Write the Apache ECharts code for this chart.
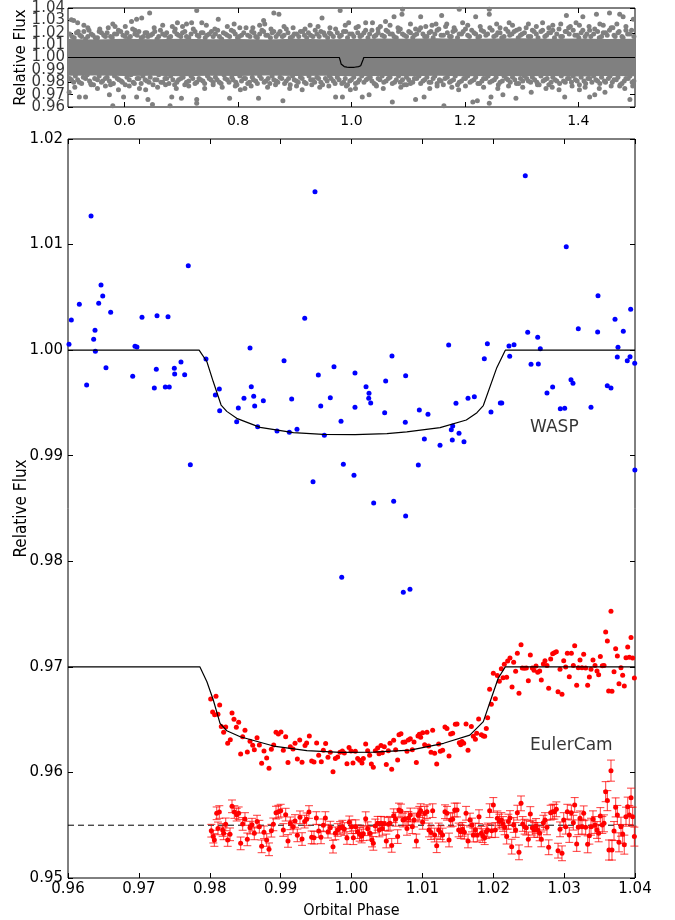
<!DOCTYPE html>
<html>
<head>
<meta charset="utf-8">
<script src="https://cdn.jsdelivr.net/npm/echarts@6/dist/echarts.min.js"></script>
<style>
html,body{margin:0;padding:0;background:#fff;}
#chart{width:675px;height:920px;}
</style>
</head>
<body>
<div id="chart"></div>
<script>
// ---- tick values ----
const topXTicks = [0.6, 0.8, 1.0, 1.2, 1.4];
const topYTicks = [0.96, 0.97, 0.98, 0.99, 1.00, 1.01, 1.02, 1.03, 1.04];
const mainXTicks = [0.96, 0.97, 0.98, 0.99, 1.00, 1.01, 1.02, 1.03, 1.04];
const mainYTicks = [0.95, 0.96, 0.97, 0.98, 0.99, 1.00, 1.01, 1.02];

// ---- full WASP light curve (phase, flux) ----
// dense core envelope of the photometry
const coreTop = [[0.50,1.0150],[0.55,1.0146],[0.60,1.0152],[0.65,1.0147],[0.70,1.0151],[0.75,1.0148],[0.80,1.0150],[0.85,1.0146],[0.90,1.0152],[0.95,1.0148],[1.00,1.0150],[1.05,1.0153],[1.10,1.0151],[1.15,1.0155],[1.20,1.0150],[1.25,1.0153],[1.30,1.0156],[1.35,1.0151],[1.40,1.0154],[1.45,1.0150],[1.50,1.0152]];
const coreBottom = [[0.50,0.9852],[0.55,0.9855],[0.60,0.9850],[0.65,0.9853],[0.70,0.9849],[0.75,0.9852],[0.80,0.9850],[0.85,0.9854],[0.90,0.9851],[0.95,0.9853],[1.00,0.9849],[1.05,0.9851],[1.10,0.9848],[1.15,0.9852],[1.20,0.9849],[1.25,0.9851],[1.30,0.9848],[1.35,0.9850],[1.40,0.9847],[1.45,0.9851],[1.50,0.9849]];
const topEdgeUpper = [[0.503,1.019],[0.511,1.016],[0.518,1.021],[0.524,1.017],[0.531,1.015],[0.537,1.022],[0.544,1.018],[0.552,1.016],[0.559,1.020],[0.566,1.017],[0.571,1.024],[0.578,1.016],[0.586,1.019],[0.593,1.021],[0.601,1.017],[0.607,1.015],[0.614,1.023],[0.622,1.018],[0.629,1.016],[0.636,1.020],[0.641,1.017],[0.649,1.019],[0.657,1.015],[0.663,1.022],[0.671,1.018],[0.678,1.016],[0.684,1.025],[0.692,1.019],[0.699,1.017],[0.706,1.021],[0.713,1.016],[0.721,1.023],[0.728,1.018],[0.735,1.020],[0.742,1.016],[0.749,1.019],[0.756,1.017],[0.764,1.022],[0.771,1.015],[0.778,1.019],[0.785,1.017],[0.792,1.021],[0.799,1.016],[0.806,1.018],[0.814,1.024],[0.821,1.017],[0.828,1.020],[0.834,1.016],[0.842,1.022],[0.849,1.018],[0.857,1.016],[0.863,1.021],[0.871,1.019],[0.878,1.017],[0.885,1.023],[0.892,1.016],[0.899,1.019],[0.907,1.017],[0.914,1.021],[0.921,1.016],[0.928,1.018],[0.936,1.022],[0.943,1.017],[0.951,1.020],[0.958,1.016],[0.964,1.019],[0.972,1.023],[0.979,1.017],[0.986,1.021],[0.993,1.016],[1.001,1.019],[1.008,1.024],[1.015,1.017],[1.022,1.020],[1.029,1.016],[1.036,1.022],[1.043,1.018],[1.051,1.025],[1.058,1.017],[1.064,1.021],[1.072,1.019],[1.079,1.016],[1.086,1.023],[1.093,1.018],[1.101,1.021],[1.108,1.016],[1.115,1.019],[1.122,1.024],[1.129,1.017],[1.137,1.020],[1.144,1.016],[1.151,1.022],[1.158,1.018],[1.166,1.025],[1.173,1.017],[1.179,1.021],[1.187,1.016],[1.194,1.019],[1.201,1.023],[1.208,1.017],[1.216,1.020],[1.223,1.016],[1.229,1.022],[1.237,1.018],[1.244,1.024],[1.251,1.017],[1.258,1.020],[1.265,1.016],[1.272,1.023],[1.279,1.018],[1.287,1.021],[1.294,1.016],[1.301,1.019],[1.308,1.024],[1.316,1.017],[1.322,1.021],[1.329,1.016],[1.337,1.022],[1.344,1.018],[1.351,1.020],[1.358,1.016],[1.366,1.023],[1.372,1.017],[1.379,1.021],[1.386,1.025],[1.394,1.018],[1.401,1.016],[1.408,1.022],[1.415,1.019],[1.422,1.017],[1.429,1.023],[1.437,1.016],[1.444,1.020],[1.451,1.018],[1.458,1.024],[1.465,1.017],[1.472,1.021],[1.479,1.016],[1.487,1.019],[1.494,1.022]];
const topEdgeUpper2 = [[0.507,1.017],[0.515,1.020],[0.521,1.018],[0.528,1.021],[0.535,1.017],[0.541,1.019],[0.548,1.016],[0.555,1.021],[0.563,1.018],[0.569,1.020],[0.575,1.017],[0.582,1.019],[0.589,1.022],[0.597,1.018],[0.604,1.020],[0.610,1.017],[0.618,1.019],[0.625,1.021],[0.633,1.017],[0.639,1.020],[0.646,1.018],[0.653,1.021],[0.660,1.017],[0.667,1.019],[0.674,1.020],[0.681,1.017],[0.688,1.021],[0.695,1.018],[0.702,1.020],[0.709,1.017],[0.717,1.019],[0.724,1.021],[0.731,1.017],[0.738,1.020],[0.745,1.018],[0.753,1.021],[0.760,1.019],[0.767,1.017],[0.774,1.020],[0.781,1.018],[0.788,1.022],[0.795,1.019],[0.802,1.017],[0.810,1.020],[0.817,1.018],[0.824,1.021],[0.831,1.017],[0.838,1.019],[0.845,1.021],[0.852,1.018],[0.860,1.020],[0.867,1.017],[0.874,1.021],[0.881,1.018],[0.888,1.020],[0.896,1.017],[0.903,1.019],[0.910,1.021],[0.917,1.018],[0.924,1.020],[0.932,1.017],[0.939,1.019],[0.946,1.021],[0.953,1.018],[0.961,1.020],[0.968,1.017],[0.975,1.020],[0.982,1.018],[0.990,1.021],[0.997,1.019],[1.004,1.017],[1.011,1.020],[1.018,1.018],[1.025,1.022],[1.032,1.019],[1.040,1.017],[1.047,1.020],[1.054,1.018],[1.061,1.022],[1.068,1.019],[1.075,1.017],[1.083,1.021],[1.090,1.019],[1.097,1.017],[1.104,1.020],[1.111,1.018],[1.119,1.022],[1.126,1.019],[1.133,1.017],[1.140,1.021],[1.147,1.019],[1.154,1.023],[1.162,1.018],[1.169,1.020],[1.176,1.017],[1.183,1.022],[1.190,1.019],[1.197,1.021],[1.205,1.018],[1.212,1.022],[1.219,1.019],[1.226,1.017],[1.233,1.021],[1.240,1.019],[1.248,1.022],[1.255,1.018],[1.262,1.020],[1.269,1.017],[1.276,1.021],[1.283,1.019],[1.291,1.022],[1.298,1.018],[1.305,1.020],[1.312,1.017],[1.319,1.022],[1.326,1.019],[1.334,1.021],[1.341,1.017],[1.348,1.020],[1.355,1.022],[1.362,1.019],[1.369,1.017],[1.377,1.021],[1.384,1.019],[1.391,1.022],[1.398,1.018],[1.405,1.020],[1.412,1.017],[1.420,1.022],[1.427,1.019],[1.434,1.021],[1.441,1.017],[1.448,1.020],[1.455,1.022],[1.463,1.018],[1.470,1.020],[1.477,1.017],[1.484,1.022],[1.491,1.019],[1.498,1.017]];
const topEdgeLower = [[0.506,0.982],[0.513,0.985],[0.520,0.980],[0.527,0.984],[0.534,0.986],[0.540,0.979],[0.547,0.983],[0.555,0.985],[0.561,0.981],[0.569,0.984],[0.575,0.978],[0.582,0.985],[0.590,0.982],[0.596,0.980],[0.604,0.984],[0.611,0.986],[0.617,0.979],[0.625,0.983],[0.632,0.985],[0.639,0.981],[0.645,0.984],[0.653,0.982],[0.660,0.986],[0.667,0.980],[0.674,0.983],[0.681,0.985],[0.688,0.978],[0.695,0.982],[0.703,0.984],[0.709,0.980],[0.717,0.985],[0.724,0.979],[0.731,0.983],[0.738,0.981],[0.746,0.985],[0.752,0.982],[0.760,0.984],[0.767,0.980],[0.775,0.986],[0.781,0.982],[0.789,0.984],[0.796,0.980],[0.803,0.985],[0.810,0.983],[0.817,0.979],[0.825,0.984],[0.831,0.981],[0.838,0.985],[0.846,0.980],[0.853,0.983],[0.860,0.985],[0.867,0.981],[0.874,0.984],[0.882,0.979],[0.889,0.983],[0.896,0.985],[0.903,0.981],[0.910,0.984],[0.917,0.980],[0.925,0.985],[0.932,0.982],[0.939,0.984],[0.946,0.980],[0.954,0.983],[0.961,0.985],[0.968,0.981],[0.975,0.984],[0.983,0.979],[0.989,0.983],[0.997,0.981],[1.004,0.984],[1.011,0.980],[1.018,0.985],[1.026,0.982],[1.033,0.984],[1.040,0.979],[1.047,0.983],[1.054,0.985],[1.061,0.981],[1.068,0.984],[1.076,0.980],[1.083,0.985],[1.090,0.982],[1.097,0.984],[1.104,0.979],[1.111,0.983],[1.119,0.985],[1.126,0.981],[1.133,0.984],[1.140,0.980],[1.147,0.985],[1.155,0.982],[1.162,0.978],[1.169,0.984],[1.176,0.981],[1.183,0.985],[1.190,0.980],[1.198,0.983],[1.205,0.985],[1.212,0.981],[1.219,0.984],[1.226,0.979],[1.233,0.983],[1.241,0.985],[1.248,0.981],[1.255,0.984],[1.262,0.980],[1.269,0.985],[1.276,0.982],[1.284,0.984],[1.291,0.979],[1.298,0.983],[1.305,0.985],[1.312,0.981],[1.319,0.984],[1.327,0.980],[1.334,0.985],[1.341,0.982],[1.348,0.978],[1.355,0.984],[1.362,0.981],[1.370,0.985],[1.377,0.980],[1.384,0.983],[1.391,0.985],[1.398,0.981],[1.405,0.984],[1.413,0.979],[1.420,0.983],[1.427,0.985],[1.434,0.981],[1.441,0.984],[1.448,0.980],[1.456,0.985],[1.463,0.982],[1.470,0.984],[1.477,0.979],[1.484,0.983],[1.491,0.985],[1.498,0.981]];
const topEdgeLower2 = [[0.503,0.983],[0.510,0.980],[0.517,0.982],[0.524,0.979],[0.531,0.983],[0.538,0.981],[0.545,0.978],[0.552,0.982],[0.559,0.980],[0.566,0.983],[0.573,0.981],[0.580,0.979],[0.587,0.983],[0.594,0.981],[0.601,0.978],[0.608,0.982],[0.615,0.980],[0.622,0.983],[0.629,0.979],[0.636,0.982],[0.643,0.980],[0.650,0.978],[0.657,0.982],[0.664,0.980],[0.671,0.983],[0.678,0.979],[0.685,0.982],[0.692,0.980],[0.699,0.983],[0.706,0.978],[0.713,0.981],[0.720,0.983],[0.727,0.980],[0.734,0.982],[0.741,0.979],[0.749,0.983],[0.756,0.980],[0.763,0.982],[0.770,0.979],[0.777,0.983],[0.784,0.980],[0.791,0.982],[0.798,0.978],[0.806,0.981],[0.813,0.983],[0.820,0.980],[0.827,0.982],[0.834,0.979],[0.841,0.983],[0.849,0.981],[0.856,0.979],[0.863,0.982],[0.870,0.980],[0.877,0.983],[0.885,0.981],[0.892,0.978],[0.899,0.982],[0.906,0.980],[0.913,0.983],[0.920,0.979],[0.928,0.982],[0.935,0.980],[0.942,0.983],[0.949,0.978],[0.957,0.981],[0.964,0.983],[0.971,0.979],[0.978,0.982],[0.986,0.980],[0.993,0.978],[1.000,0.982],[1.007,0.979],[1.014,0.982],[1.022,0.980],[1.029,0.983],[1.036,0.981],[1.043,0.978],[1.050,0.982],[1.057,0.980],[1.065,0.983],[1.072,0.979],[1.079,0.982],[1.086,0.980],[1.093,0.978],[1.101,0.982],[1.108,0.980],[1.115,0.983],[1.122,0.979],[1.129,0.982],[1.137,0.980],[1.144,0.983],[1.151,0.979],[1.158,0.981],[1.165,0.983],[1.173,0.980],[1.180,0.982],[1.187,0.978],[1.194,0.981],[1.201,0.983],[1.209,0.980],[1.216,0.982],[1.223,0.979],[1.230,0.981],[1.237,0.983],[1.244,0.980],[1.252,0.982],[1.259,0.978],[1.266,0.981],[1.273,0.983],[1.280,0.980],[1.288,0.982],[1.295,0.979],[1.302,0.981],[1.309,0.983],[1.316,0.980],[1.323,0.982],[1.331,0.978],[1.338,0.981],[1.345,0.983],[1.352,0.980],[1.359,0.982],[1.367,0.979],[1.374,0.981],[1.381,0.983],[1.388,0.980],[1.395,0.982],[1.402,0.978],[1.410,0.981],[1.417,0.983],[1.424,0.980],[1.431,0.982],[1.438,0.979],[1.446,0.981],[1.453,0.983],[1.460,0.980],[1.467,0.982],[1.474,0.978],[1.481,0.981],[1.488,0.983],[1.495,0.980]];
const topScatter = [[0.506,1.0305],[0.510,1.030],[0.517,1.028],[0.535,1.024],[0.579,1.027],[0.583,1.025],[0.612,1.029],[0.621,1.031],[0.630,1.032],[0.644,1.036],[0.693,1.028],[0.709,1.027],[0.718,1.028],[0.727,1.038],[0.736,1.028],[0.765,1.031],[0.803,1.024],[0.845,1.030],[0.847,1.027],[0.863,1.036],[0.872,1.035],[0.927,1.026],[0.948,1.032],[0.980,1.038],[0.995,1.028],[1.025,1.028],[1.037,1.028],[1.060,1.029],[1.075,1.033],[1.089,1.035],[1.090,1.039],[1.122,1.033],[1.149,1.027],[1.159,1.034],[1.190,1.039],[1.196,1.028],[1.219,1.033],[1.243,1.039],[1.243,1.035],[1.278,1.028],[1.337,1.028],[1.355,1.026],[1.379,1.034],[1.396,1.028],[1.408,1.033],[1.432,1.035],[1.444,1.026],[1.455,1.036],[1.473,1.035],[1.479,1.033],[1.497,1.031],
[0.528,1.026],[0.556,1.023],[0.601,1.025],[0.618,1.022],[0.652,1.024],[0.667,1.026],[0.689,1.023],[0.702,1.025],[0.744,1.026],[0.759,1.023],[0.781,1.025],[0.793,1.027],[0.826,1.024],[0.838,1.026],[0.858,1.023],[0.881,1.025],[0.897,1.024],[0.918,1.023],[0.941,1.025],[0.962,1.024],[0.989,1.026],[1.012,1.025],[1.047,1.023],[1.068,1.026],[1.082,1.024],[1.104,1.027],[1.113,1.023],[1.131,1.025],[1.142,1.026],[1.168,1.027],[1.181,1.024],[1.205,1.026],[1.227,1.025],[1.256,1.027],[1.262,1.024],[1.284,1.026],[1.296,1.023],[1.312,1.027],[1.326,1.025],[1.348,1.024],[1.369,1.027],[1.383,1.024],[1.402,1.026],[1.419,1.025],[1.438,1.027],[1.461,1.024],[1.468,1.027],[1.484,1.025],
[0.502,0.972],[0.520,0.968],[0.531,0.968],[0.573,0.970],[0.579,0.961],[0.598,0.968],[0.621,0.968],[0.637,0.974],[0.641,0.966],[0.649,0.962],[0.680,0.961],[0.683,0.968],[0.700,0.967],[0.727,0.966],[0.727,0.963],[0.785,0.967],[0.804,0.974],[0.836,0.967],[0.879,0.965],[0.913,0.974],[0.930,0.978],[0.960,0.977],[0.972,0.968],[0.984,0.968],[0.998,0.974],[1.019,0.968],[1.031,0.970],[1.072,0.964],[1.113,0.966],[1.128,0.968],[1.163,0.961],[1.214,0.964],[1.222,0.965],[1.243,0.963],[1.246,0.968],[1.267,0.970],[1.290,0.967],[1.317,0.972],[1.343,0.975],[1.376,0.968],[1.402,0.974],[1.420,0.968],[1.429,0.970],[1.447,0.972],[1.491,0.966],[1.473,0.977],
[0.512,0.976],[0.541,0.978],[0.552,0.975],[0.566,0.977],[0.589,0.974],[0.608,0.977],[0.626,0.975],[0.658,0.976],[0.672,0.978],[0.691,0.975],[0.713,0.977],[0.741,0.975],[0.756,0.978],[0.772,0.976],[0.795,0.977],[0.812,0.975],[0.823,0.977],[0.852,0.976],[0.866,0.978],[0.891,0.975],[0.903,0.977],[0.944,0.976],[0.991,0.977],[1.007,0.975],[1.044,0.977],[1.056,0.975],[1.087,0.976],[1.097,0.978],[1.138,0.975],[1.151,0.977],[1.177,0.976],[1.189,0.974],[1.201,0.977],[1.233,0.976],[1.258,0.975],[1.277,0.977],[1.302,0.976],[1.328,0.978],[1.354,0.976],[1.366,0.974],[1.389,0.977],[1.412,0.976],[1.437,0.975],[1.458,0.977],[1.482,0.975],[1.496,0.977]];

// ---- WASP points around transit ----
const waspPoints = [[0.96014,1.00055],[0.96047,1.00285],[0.96160,1.00434],[0.96263,0.99670],[0.96325,1.01271],[0.96362,1.00103],[0.96381,1.00188],[0.96386,0.99990],[0.96433,1.00444],[0.96466,1.00617],[0.96490,1.00513],[0.96536,0.99834],[0.96602,1.00358],[0.96913,0.99752],[0.96945,1.00036],[0.96973,1.00030],[0.97044,1.00311],[0.97218,0.99641],[0.97246,0.99818],[0.97256,1.00326],[0.97373,0.99651],[0.97411,1.00317],[0.97429,0.99651],[0.97500,0.99828],[0.97505,0.99774],[0.97594,0.99888],[0.97646,0.99767],[0.97697,1.00800],[0.97726,0.98915],[0.97947,0.99916],[0.98079,0.99575],[0.98135,0.99632],[0.98140,0.99426],[0.98380,0.99322],[0.98403,0.99452],[0.98483,0.99544],[0.98568,1.00020],[0.98586,0.99654],[0.98620,0.99563],[0.98634,0.99471],[0.98676,0.99275],[0.98756,0.99521],[0.98949,0.99234],[0.99048,0.99900],[0.99123,0.99222],[0.99156,0.99537],[0.99231,0.99250],[0.99340,1.00302],[0.99457,0.98754],[0.99485,1.01500],[0.99532,0.99764],[0.99566,0.99471],[0.99617,0.99193],[0.99701,0.99550],[0.99753,0.99843],[0.99852,0.99326],[0.99862,0.97848],[0.99885,0.98918],[1.00035,0.98814],[1.00049,0.99783],[1.00049,0.99458],[1.00205,0.99654],[1.00243,0.99544],[1.00247,0.99591],[1.00271,0.99499],[1.00313,0.98552],[1.00468,0.99407],[1.00482,0.99708],[1.00571,0.99944],[1.00595,0.98568],[1.00731,0.97706],[1.00759,0.99316],[1.00764,0.99758],[1.00764,0.98429],[1.00825,0.97734],[1.00943,0.98912],[1.00957,0.99433],[1.01028,0.99158],[1.01079,0.99392],[1.01249,0.99098],[1.01371,1.00049],[1.01408,0.99246],[1.01422,0.99149],[1.01428,0.99281],[1.01474,0.99497],[1.01517,0.99212],[1.01587,0.99133],[1.01644,0.99544],[1.01733,0.99559],[1.01874,0.99919],[1.01917,1.00061],[1.01968,0.99414],[1.02100,0.99499],[1.02120,0.99499],[1.02222,1.00039],[1.02232,0.99942],[1.02293,1.00052],[1.02452,1.01652],[1.02486,1.00169],[1.02533,0.99866],[1.02627,1.00122],[1.02636,0.99869],[1.02664,1.00013],[1.02758,0.99594],[1.02838,0.99651],[1.02946,0.99446],[1.03008,0.99449],[1.03030,1.00980],[1.03097,0.99720],[1.03125,0.99686],[1.03200,1.00203],[1.03379,0.99458],[1.03473,1.00172],[1.03478,1.00516],[1.03609,0.99663],[1.03661,0.99641],[1.03718,1.00292],[1.03750,0.99935],[1.03760,1.00027],[1.03835,1.00178],[1.03891,0.99900],[1.03930,0.99938],[1.03939,1.00387],[1.03996,0.99875],[1.03998,0.98865]];

// ---- transit models ----
const waspModel = [[0.9600,1.0000],[0.9785,1.0000],[0.9796,0.9989],[0.9805,0.9970],[0.9816,0.9948],[0.9824,0.9942],[0.9838,0.99354],[0.9871,0.99269],[0.9918,0.99218],[0.9960,0.99202],[1.0005,0.99200],[1.0050,0.99210],[1.0078,0.99226],[1.0125,0.99266],[1.0162,0.99338],[1.0177,0.99408],[1.0186,0.99475],[1.0205,0.99834],[1.0217,1.0000],[1.0400,1.0000]];
const eulerModel = [[0.9600,0.9700],[0.9786,0.9700],[0.9796,0.96859],[0.9805,0.96686],[0.98145,0.96465],[0.9824,0.96395],[0.9843,0.96338],[0.9890,0.96250],[0.9937,0.96206],[0.9984,0.96190],[1.0031,0.96192],[1.0083,0.96212],[1.0130,0.96276],[1.0167,0.96354],[1.0186,0.96481],[1.0198,0.96717],[1.0207,0.96892],[1.0217,0.9700],[1.0400,0.9700]];

// ---- EulerCam photometry (offset by -0.03) ----
const eulerPoints = [[0.98013,0.96696],[0.98088,0.96721],[0.98140,0.96639],[0.98041,0.96572],[0.98069,0.96547],[0.98116,0.96550],[0.98163,0.96434],[0.98225,0.96430],[0.98196,0.96380],[0.98314,0.96563],[0.98342,0.96503],[0.98408,0.96475],[0.98375,0.96427],[0.98497,0.96399],[0.98290,0.96310],[0.98253,0.96276],[0.98464,0.96339],[0.98568,0.96295],[0.98667,0.96329],[0.98606,0.96257],[0.98700,0.96260],[0.98436,0.96175],[0.98530,0.96194],[0.98629,0.96216],[0.98765,0.96203],[0.98732,0.96086],[0.98803,0.96137],[0.98836,0.96039],[0.98869,0.96219],[0.98902,0.96260],[0.98935,0.96380],[0.98968,0.96364],[0.99005,0.96383],[0.99071,0.96339],[0.99038,0.96209],[0.99104,0.96093],[0.99137,0.96244],[0.99175,0.96222],[0.99203,0.96276],[0.99269,0.96307],[0.99236,0.96127],[0.99302,0.96096],[0.99344,0.96254],[0.99367,0.96279],[0.99405,0.96345],[0.99438,0.96108],[0.99471,0.96099],[0.99508,0.96279],[0.99537,0.96162],[0.99574,0.96102],[0.99603,0.96209],[0.99635,0.96273],[0.99668,0.96143],[0.99701,0.96191],[0.99739,0.96007],[0.99772,0.96131],[0.99805,0.96146],[0.99838,0.96191],[0.99871,0.96203],[0.99899,0.96184],[0.99936,0.96083],[0.99965,0.96235],[0.99993,0.96203],[1.00021,0.96089],[1.00054,0.96200],[1.00087,0.96131],[1.00115,0.96115],[1.00148,0.96089],[1.00167,0.96131],[1.00200,0.96269],[1.00228,0.96206],[1.00256,0.96162],[1.00280,0.96080],[1.00308,0.96048],[1.00336,0.96206],[1.00369,0.96232],[1.00388,0.96178],[1.00416,0.96254],[1.00435,0.96187],[1.00463,0.96244],[1.00491,0.96074],[1.00520,0.96206],[1.00543,0.96276],[1.00567,0.96029],[1.00595,0.96304],[1.00623,0.96216],[1.00651,0.96118],[1.00670,0.96358],[1.00698,0.96367],[1.00727,0.96285],[1.00755,0.96288],[1.00783,0.96200],[1.00802,0.96307],[1.00830,0.96320],[1.00858,0.96216],[1.00882,0.96288],[1.00915,0.96093],[1.00938,0.96345],[1.00957,0.96361],
[1.00976,0.96333],[1.01004,0.96377],[1.01032,0.96263],[1.01065,0.96380],[1.01089,0.96250],[1.01122,0.96191],[1.01145,0.96399],[1.01173,0.96181],[1.01202,0.96080],[1.01230,0.96269],[1.01253,0.96200],[1.01286,0.96209],[1.01319,0.96430],[1.01347,0.96415],[1.01376,0.96156],[1.01399,0.96364],[1.01427,0.96370],[1.01465,0.96456],[1.01489,0.96459],[1.01521,0.96282],[1.01540,0.96263],[1.01559,0.96292],[1.01583,0.96276],[1.01616,0.96459],[1.01644,0.96209],[1.01691,0.96434],[1.01719,0.96342],[1.01748,0.96314],[1.01766,0.96370],[1.01794,0.96506],[1.01832,0.96358],[1.01860,0.96345],[1.01879,0.96342],[1.01902,0.96415],[1.01921,0.96519],[1.01949,0.96787],[1.01973,0.96645],[1.02001,0.96939],[1.02029,0.96699],[1.02058,0.96917],[1.02086,0.96863],[1.02114,0.96983],[1.02138,0.96898],[1.02189,0.96901],[1.02156,0.97024],[1.02203,0.97055],[1.02236,0.97084],[1.02265,0.96809],[1.02288,0.97043],[1.02316,0.96958],[1.02340,0.97128],[1.02363,0.96749],[1.02392,0.97210],[1.02410,0.96989],[1.02439,0.96986],[1.02467,0.96989],[1.02495,0.96869],[1.02523,0.97112],[1.02551,0.96989],[1.02575,0.96967],[1.02603,0.97008],[1.02627,0.96948],[1.02655,0.96961],[1.02678,0.96876],[1.02707,0.97027],[1.02730,0.97059],[1.02758,0.97014],[1.02782,0.96797],[1.02810,0.97074],[1.02838,0.97125],[1.02862,0.97134],[1.02890,0.97144],[1.02914,0.96765],[1.02942,0.96977],[1.02970,0.96740],[1.02994,0.97059],[1.03022,0.96999],[1.03045,0.97128],[1.03073,0.96907],[1.03102,0.97128],[1.03130,0.97014],[1.03149,0.97201],[1.03177,0.96825],[1.03200,0.96992],[1.03224,0.97065],[1.03252,0.96992],[1.03276,0.97119],[1.03304,0.96989],[1.03332,0.96825],[1.03356,0.96904],[1.03379,0.96977],[1.03407,0.97065],[1.03436,0.97014],[1.03464,0.96961],[1.03487,0.96926],[1.03511,0.97097],[1.03539,0.97011],[1.03563,0.97014],[1.03586,0.97330],[1.03610,0.97245],[1.03628,0.96771],[1.03661,0.97526],[1.03675,0.96768],[1.03704,0.96954],[1.03727,0.97172],[1.03751,0.97103],[1.03774,0.96841],[1.03802,0.96992],[1.03826,0.96920],[1.03849,0.96819],[1.03873,0.97087],[1.03897,0.97188],[1.03920,0.97090],[1.03944,0.97277],[1.03967,0.97084],[1.03991,0.96895]];

// ---- EulerCam residuals (phase, flux, error), offset to 0.955 ----
const residualZero = 0.955;
const residPoints = [[0.98022,0.95448,0.0006],[0.98050,0.95392,0.0006],[0.98065,0.95360,0.0006],[0.98098,0.95613,0.0006],[0.98135,0.95625,0.0006],[0.98116,0.95470,0.0006],[0.98182,0.95455,0.0006],[0.98196,0.95423,0.0006],[0.98225,0.95508,0.0006],[0.98253,0.95360,0.0006],[0.98286,0.95414,0.0006],[0.98314,0.95679,0.0006],[0.98347,0.95625,0.0006],[0.98380,0.95600,0.0006],[0.98408,0.95613,0.0006],[0.98436,0.95328,0.0006],[0.98464,0.95512,0.0006],[0.98497,0.95559,0.0006],[0.98530,0.95366,0.0006],[0.98568,0.95477,0.0006],[0.98596,0.95505,0.0006],[0.98629,0.95423,0.0006],[0.98667,0.95534,0.0006],[0.98700,0.95486,0.0006],[0.98732,0.95300,0.0006],[0.98765,0.95433,0.0006],[0.98803,0.95360,0.0006],[0.98836,0.95272,0.0006],[0.98869,0.95448,0.0006],[0.98897,0.95508,0.0006],[0.98935,0.95619,0.0006],[0.98968,0.95628,0.0006],[0.99001,0.95638,0.0006],[0.99038,0.95455,0.0006],[0.99071,0.95600,0.0006],[0.99104,0.95351,0.0006],[0.99137,0.95518,0.0006],[0.99175,0.95486,0.0006],[0.99203,0.95540,0.0006],[0.99236,0.95404,0.0006],[0.99273,0.95575,0.0006],[0.99302,0.95369,0.0006],[0.99339,0.95534,0.0006],[0.99367,0.95556,0.0006],[0.99400,0.95625,0.0006],[0.99438,0.95385,0.0006],[0.99471,0.95382,0.0006],[0.99504,0.95568,0.0006],[0.99537,0.95445,0.0006],[0.99570,0.95385,0.0006],[0.99603,0.95499,0.0006],[0.99631,0.95568,0.0006],[0.99668,0.95439,0.0006],[0.99701,0.95477,0.0006],[0.99739,0.95297,0.0006],[0.99772,0.95423,0.0006],[0.99805,0.95455,0.0006],[0.99838,0.95474,0.0006],[0.99871,0.95486,0.0006],[0.99899,0.95464,0.0006],[0.99936,0.95379,0.0006],[0.99969,0.95527,0.0006],[1.00002,0.95486,0.00065],[1.00026,0.95382,0.00065],[1.00059,0.95486,0.00065],[1.00087,0.95439,0.00065],[1.00115,0.95414,0.00065],[1.00143,0.95398,0.00065],[1.00167,0.95420,0.00065],[1.00200,0.95562,0.00065],[1.00228,0.95467,0.00065],[1.00261,0.95423,0.00065],[1.00289,0.95360,0.00065],[1.00308,0.95328,0.00065],[1.00336,0.95493,0.00065],[1.00369,0.95518,0.00065],[1.00393,0.95455,0.00065],[1.00416,0.95518,0.00065],[1.00435,0.95470,0.00065],[1.00463,0.95515,0.00065],[1.00491,0.95351,0.00065],[1.00520,0.95508,0.00065],[1.00543,0.95518,0.00065],[1.00567,0.95309,0.00065],[1.00595,0.95590,0.00065],[1.00623,0.95556,0.00065],[1.00651,0.95392,0.00065],[1.00670,0.95644,0.00065],[1.00698,0.95635,0.00065],[1.00727,0.95549,0.00065],[1.00755,0.95562,0.00065],[1.00783,0.95470,0.00065],[1.00802,0.95565,0.00065],[1.00830,0.95597,0.00065],[1.00858,0.95486,0.00065],[1.00882,0.95549,0.00065],[1.00915,0.95351,0.00065],[1.00938,0.95597,0.00065],[1.00957,0.95613,0.00065],
[1.00976,0.95638,0.00065],[1.01004,0.95527,0.00065],[1.01032,0.95613,0.00065],[1.01065,0.95628,0.00065],[1.01093,0.95455,0.00065],[1.01122,0.95430,0.00065],[1.01145,0.95638,0.00065],[1.01173,0.95407,0.00065],[1.01202,0.95306,0.00065],[1.01230,0.95455,0.00065],[1.01258,0.95430,0.00065],[1.01286,0.95407,0.00065],[1.01319,0.95628,0.00065],[1.01347,0.95613,0.00065],[1.01376,0.95360,0.00065],[1.01399,0.95549,0.00065],[1.01427,0.95556,0.00065],[1.01456,0.95644,0.00065],[1.01489,0.95644,0.00065],[1.01512,0.95455,0.00065],[1.01540,0.95439,0.00065],[1.01568,0.95461,0.00065],[1.01592,0.95433,0.00065],[1.01616,0.95613,0.00065],[1.01644,0.95351,0.00065],[1.01672,0.95549,0.00065],[1.01700,0.95502,0.00065],[1.01719,0.95407,0.00065],[1.01747,0.95455,0.00065],[1.01775,0.95407,0.00065],[1.01799,0.95581,0.00065],[1.01832,0.95423,0.00065],[1.01851,0.95401,0.00065],[1.01879,0.95382,0.00065],[1.01902,0.95439,0.00065],[1.01921,0.95455,0.00065],[1.01949,0.95638,0.00065],[1.01978,0.95448,0.00065],[1.02001,0.95692,0.0007],[1.02029,0.95455,0.0007],[1.02058,0.95565,0.0007],[1.02086,0.95534,0.0007],[1.02114,0.95549,0.0007],[1.02138,0.95512,0.0007],[1.02161,0.95480,0.0007],[1.02189,0.95392,0.0007],[1.02213,0.95534,0.0007],[1.02236,0.95568,0.0007],[1.02260,0.95297,0.0007],[1.02288,0.95502,0.0007],[1.02316,0.95455,0.0007],[1.02340,0.95619,0.0007],[1.02363,0.95243,0.0007],[1.02392,0.95707,0.0007],[1.02415,0.95512,0.0007],[1.02443,0.95486,0.0007],[1.02467,0.95477,0.0007],[1.02495,0.95366,0.0007],[1.02523,0.95606,0.0007],[1.02551,0.95477,0.0007],[1.02575,0.95455,0.0007],[1.02603,0.95493,0.0007],[1.02627,0.95455,0.0007],[1.02655,0.95423,0.0007],[1.02678,0.95366,0.0007],[1.02707,0.95524,0.0007],[1.02730,0.95549,0.0007],[1.02758,0.95480,0.0007],[1.02782,0.95291,0.0007],[1.02810,0.95619,0.0007],[1.02838,0.95628,0.0007],[1.02862,0.95628,0.0007],[1.02890,0.95651,0.0007],[1.02914,0.95259,0.0007],[1.02942,0.95461,0.0007],[1.02970,0.95234,0.0007],[1.02994,0.95549,0.0007],[1.03022,0.95486,0.0007],[1.03045,0.95628,0.0007],[1.03073,0.95407,0.0007],[1.03102,0.95619,0.0007],[1.03130,0.95524,0.0007],[1.03149,0.95692,0.0007],[1.03177,0.95322,0.0007],[1.03200,0.95480,0.0007],[1.03224,0.95565,0.0007],[1.03252,0.95486,0.0007],[1.03276,0.95613,0.0007],[1.03304,0.95480,0.0007],[1.03332,0.95319,0.0008],[1.03356,0.95401,0.0008],[1.03379,0.95486,0.0008],[1.03407,0.95556,0.0008],[1.03436,0.95502,0.0008],[1.03464,0.95455,0.0008],[1.03487,0.95423,0.0008],[1.03511,0.95587,0.0008],[1.03539,0.95502,0.0008],[1.03563,0.95518,0.0008],[1.03586,0.95818,0.00095],[1.03610,0.95733,0.00095],[1.03633,0.95265,0.00095],[1.03661,0.96017,0.001],[1.03675,0.95265,0.00095],[1.03704,0.95445,0.0009],[1.03727,0.95669,0.0009],[1.03751,0.95597,0.0009],[1.03774,0.95338,0.0009],[1.03802,0.95486,0.0009],[1.03826,0.95417,0.0009],[1.03849,0.95316,0.0009],[1.03873,0.95581,0.0009],[1.03897,0.95676,0.0009],[1.03920,0.95597,0.0009],[1.03944,0.95761,0.0009],[1.03967,0.95581,0.0009],[1.03991,0.95392,0.0009]];

// ---- labels ----
const seriesLabels = [
  {text: 'WASP', at: [1.0252, 0.99262]},
  {text: 'EulerCam', at: [1.0252, 0.96250]}
];

const FONT = 'DejaVu Sans';
const NARROW = '"DejaVu Sans Condensed", "Liberation Sans Narrow", "DejaVu Sans"';
const GRAY = '#808080';

function valueAxis(extra) {
  return Object.assign({
    type: 'value',
    scale: true,
    nameMoveOverlap: false,
    splitLine: {show: false},
    axisLine: {show: false},
    axisTick: {show: true, inside: true, length: 5, lineStyle: {color: '#000', width: 1}},
    axisLabel: {show: false}
  }, extra);
}
function ticksLabels(values, digits, size, margin) {
  return {
    axisTick: {show: true, inside: true, length: 5, customValues: values, lineStyle: {color: '#000', width: 1}},
    axisLabel: {show: true, customValues: values, formatter: v => Number(v).toFixed(digits),
      fontFamily: FONT, fontSize: size, color: '#000', margin: margin, hideOverlap: false,
      showMinLabel: true, showMaxLabel: true}
  };
}
function mirrorTicks(values) {
  return {axisTick: {show: true, inside: true, length: 5, customValues: values, lineStyle: {color: '#000', width: 1}},
          axisLabel: {show: false, customValues: values}};
}
function dots(xi, yi, color, data, z) {
  return {type: 'scatter', xAxisIndex: xi, yAxisIndex: yi, symbolSize: 5,
    itemStyle: {color: color, opacity: 1}, data: data, z: z, silent: true, large: false};
}

const option = {
  animation: false,
  backgroundColor: '#fff',
  grid: [
    {left: 68, top: 8, width: 567, height: 99, show: true, borderColor: '#000', borderWidth: 1,
      backgroundColor: 'transparent', containLabel: false, outerBoundsMode: 'none'},
    {left: 68, top: 139, width: 567, height: 739, show: true, borderColor: '#000', borderWidth: 1,
      backgroundColor: 'transparent', containLabel: false, outerBoundsMode: 'none'}
  ],
  xAxis: [
    valueAxis(Object.assign({gridIndex: 0, min: 0.5, max: 1.5, position: 'bottom'}, ticksLabels(topXTicks, 1, 14, 7))),
    valueAxis(Object.assign({gridIndex: 0, min: 0.5, max: 1.5, position: 'top'}, mirrorTicks(topXTicks))),
    valueAxis(Object.assign({gridIndex: 1, min: 0.96, max: 1.04, position: 'bottom',
      name: 'Orbital Phase', nameLocation: 'middle', nameGap: 25,
      nameTextStyle: {fontFamily: NARROW, fontSize: 16, color: '#000'}}, ticksLabels(mainXTicks, 2, 15, 4))),
    valueAxis(Object.assign({gridIndex: 1, min: 0.96, max: 1.04, position: 'top'}, mirrorTicks(mainXTicks)))
  ],
  yAxis: [
    // top panel labels are drawn by a label series below, since they overlap each other
    valueAxis(Object.assign({gridIndex: 0, min: 0.96, max: 1.04, position: 'left',
      name: 'Relative Flux', nameLocation: 'middle', nameGap: 39,
      nameTextStyle: {fontFamily: FONT, fontSize: 15, color: '#000'}}, mirrorTicks(topYTicks))),
    valueAxis(Object.assign({gridIndex: 0, min: 0.96, max: 1.04, position: 'right'}, mirrorTicks(topYTicks))),
    valueAxis(Object.assign({gridIndex: 1, min: 0.95, max: 1.02, position: 'left',
      name: 'Relative Flux', nameLocation: 'middle', nameGap: 38,
      nameTextStyle: {fontFamily: NARROW, fontSize: 17, color: '#000'}}, ticksLabels(mainYTicks, 2, 15, 5))),
    valueAxis(Object.assign({gridIndex: 1, min: 0.95, max: 1.02, position: 'right'}, mirrorTicks(mainYTicks)))
  ],
  series: [
    // top panel: dense core of the light curve
    {
      type: 'custom', xAxisIndex: 0, yAxisIndex: 0, silent: true, z: 1,
      data: [[1.0, 1.0]],
      renderItem: function (params, api) {
        const pts = coreTop.map(p => api.coord(p)).concat(coreBottom.slice().reverse().map(p => api.coord(p)));
        return {type: 'polygon', shape: {points: pts}, style: {fill: GRAY}};
      }
    },
    dots(0, 0, GRAY, topEdgeUpper, 2),
    dots(0, 0, GRAY, topEdgeUpper2, 2),
    dots(0, 0, GRAY, topEdgeLower, 2),
    dots(0, 0, GRAY, topEdgeLower2, 2),
    dots(0, 0, GRAY, topScatter, 2),
    {type: 'line', xAxisIndex: 0, yAxisIndex: 0, data: [[0.5, 1.0]].concat(waspModel, [[1.5, 1.0]]),
      showSymbol: false, symbol: 'none', lineStyle: {color: '#000', width: 1.2}, z: 3, silent: true},
    // top panel y tick labels
    {type: 'scatter', xAxisIndex: 0, yAxisIndex: 0, symbolSize: 0, clip: false, z: 5, silent: true,
      data: topYTicks.map(v => [0.5, v]),
      label: {show: true, position: 'left', distance: 3, formatter: p => p.value[1].toFixed(2),
        fontFamily: FONT, fontSize: 15, color: '#000'}},

    // main panel
    {type: 'line', xAxisIndex: 2, yAxisIndex: 2, data: [[0.96, residualZero], [1.04, residualZero]],
      showSymbol: false, symbol: 'none', lineStyle: {color: '#000', width: 1, type: [6, 4]}, z: 1, silent: true},
    dots(2, 2, '#0000ff', waspPoints, 2),
    {type: 'line', xAxisIndex: 2, yAxisIndex: 2, data: waspModel,
      showSymbol: false, symbol: 'none', lineStyle: {color: '#000', width: 1.2}, z: 3, silent: true},
    dots(2, 2, '#ff0000', eulerPoints, 2),
    {type: 'line', xAxisIndex: 2, yAxisIndex: 2, data: eulerModel,
      showSymbol: false, symbol: 'none', lineStyle: {color: '#000', width: 1.2}, z: 3, silent: true},
    {
      type: 'custom', xAxisIndex: 2, yAxisIndex: 2, silent: true, z: 2,
      data: residPoints,
      renderItem: function (params, api) {
        const x = api.value(0), y = api.value(1), e = api.value(2);
        const hi = api.coord([x, y + e]);
        const lo = api.coord([x, y - e]);
        const cap = 4;
        const st = {stroke: 'rgba(255,0,0,0.7)', lineWidth: 1.1};
        return {type: 'group', children: [
          {type: 'line', shape: {x1: hi[0], y1: hi[1], x2: lo[0], y2: lo[1]}, style: st},
          {type: 'line', shape: {x1: hi[0] - cap, y1: hi[1], x2: hi[0] + cap, y2: hi[1]}, style: st},
          {type: 'line', shape: {x1: lo[0] - cap, y1: lo[1], x2: lo[0] + cap, y2: lo[1]}, style: st}
        ]};
      }
    },
    dots(2, 2, '#ff0000', residPoints.map(p => [p[0], p[1]]), 3),
    {type: 'scatter', xAxisIndex: 2, yAxisIndex: 2, symbolSize: 0, z: 4, silent: true,
      data: seriesLabels.map(d => ({value: d.at, name: d.text})),
      label: {show: true, formatter: p => p.name, position: [0, 0], align: 'left', verticalAlign: 'middle',
        fontFamily: FONT, fontSize: 17, color: '#000'}}
  ]
};

const chart = echarts.init(document.getElementById('chart'), null, {renderer: 'canvas'});
chart.setOption(option);
</script>
</body>
</html>
